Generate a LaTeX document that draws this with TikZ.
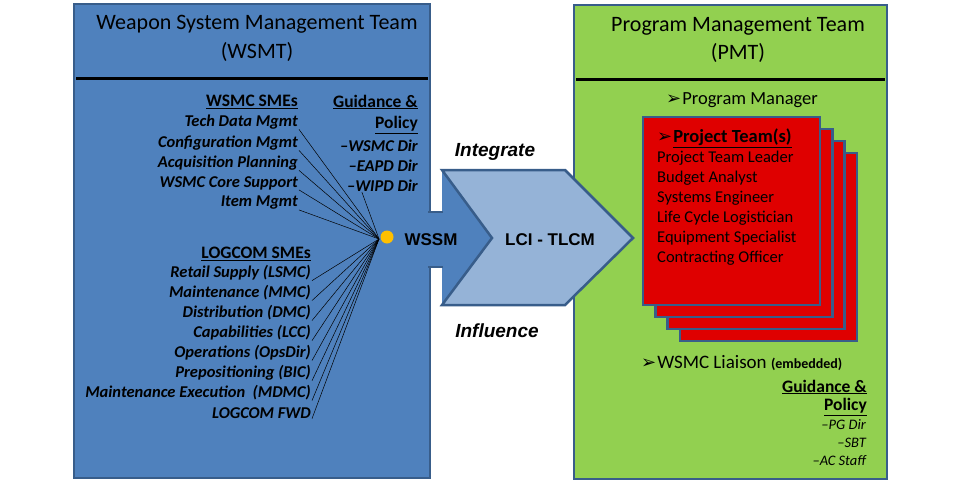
\documentclass[tikz,border=0pt]{standalone}
\usepackage{fontspec}
\setmainfont{Carlito}
\newfontfamily\arialfont{Liberation Sans}
\newfontfamily\symfont{DejaVu Sans}
\definecolor{blueface}{HTML}{4F81BD}
\definecolor{edgeblue}{HTML}{385D8A}
\definecolor{lightblue}{HTML}{95B3D7}
\definecolor{greenface}{HTML}{92D050}
\definecolor{cardred}{HTML}{DF0000}
\definecolor{dotyellow}{HTML}{FFC000}
\newcommand{\pointer}{{\symfont\fontsize{18}{18}\selectfont\char"27A2}\kern1pt}
\begin{document}
\begin{tikzpicture}[x=1pt, y=-1pt,
  edge/.style={draw=edgeblue, line width=2.5pt},
  head/.style={inner sep=0pt, font=\fontsize{22}{24}\selectfont},
  sme/.style={anchor=east, inner sep=0pt, font=\fontsize{16.5}{18}\selectfont\bfseries\itshape},
  smehead/.style={anchor=east, inner sep=0pt, font=\fontsize{17.5}{19}\selectfont\bfseries},
  spoke/.style={line width=0.5pt},
  member/.style={anchor=west, inner sep=0pt, font=\fontsize{16.5}{18}\selectfont},
  card/.style={fill=cardred, draw=edgeblue, line width=2.5pt},
  bigarrow/.style={inner sep=0pt, font=\fontsize{17}{20}\selectfont\arialfont\bfseries},
  verb/.style={inner sep=0pt, font=\fontsize{19}{21}\selectfont\arialfont\bfseries\itshape},
  staff/.style={anchor=east, inner sep=0pt, font=\fontsize{14.5}{16}\selectfont\itshape}]
  \useasboundingbox (0,0) rectangle (960,482);
  \fill[white] (0,0) rectangle (960,482);
  % WSMT panel
  \draw[edge, fill=blueface] (74,4) rectangle (430,478);
  \draw[line width=3pt] (76,78) -- (428,78);
  \node[head] (wsmt) at (257,24) {Weapon System Management Team};
  \node[head] (wsmtabbr) at (257,52) {(WSMT)};
  % PMT panel
  \draw[edge, fill=greenface] (574,5) rectangle (887,479);
  \draw[line width=3pt] (576,79) -- (885,79);
  \node[head] (pmt) at (738,26) {Program Management Team};
  \node[head] (pmtabbr) at (738,53) {(PMT)};
  % arrows
  \fill[blueface] (424,212) -- (442,212) -- (442,170) -- (492,238) -- (442,305)
    -- (442,267) -- (424,267) -- cycle;
  \draw[edge] (428,212) -- (443,212);
  \draw[edge] (428,267) -- (443,267);
  \draw[edge, fill=lightblue] (442,170) -- (565,170) -- (633,238) -- (565,305)
    -- (442,305) -- (492,238) -- cycle;
  \node[bigarrow] (wssm) at (431,240) {WSSM};
  \node[bigarrow] (lci) at (550,240) {LCI - TLCM};
  \node[verb] (integrate) at (495,152) {Integrate};
  \node[verb] (influence) at (497,331) {Influence};
  % WSMC SMEs
  \node[smehead] (wsmchead) at (298,102) {\underline{WSMC SMEs}};
  \node[sme] (tech) at (298,122) {Tech Data Mgmt};
  \node[sme] (config) at (298,143) {Configuration Mgmt};
  \node[sme] (acq) at (298,163) {Acquisition Planning};
  \node[sme] (core) at (298,183) {WSMC Core Support};
  \node[sme] (item) at (298,203) {Item Mgmt};
  % guidance
  \node[smehead] (guide) at (418,102) {\underline{Guidance \&}};
  \node[smehead] (policy) at (418,125) {\underline{Policy}};
  \node[sme] (wsmcdir) at (418,146) {--WSMC Dir};
  \node[sme] (eapd) at (418,166) {--EAPD Dir};
  \node[sme] (wipd) at (418,186) {--WIPD Dir};
  % LOGCOM SMEs
  \node[smehead] (loghead) at (311,254) {\underline{LOGCOM SMEs}};
  \node[sme] (retail) at (311,273) {Retail Supply (LSMC)};
  \node[sme] (maint) at (311,293) {Maintenance (MMC)};
  \node[sme] (dist) at (311,313) {Distribution (DMC)};
  \node[sme] (cap) at (311,333) {Capabilities (LCC)};
  \node[sme] (ops) at (311,353) {Operations (OpsDir)};
  \node[sme] (prepos) at (311,373) {Prepositioning (BIC)};
  \node[sme] (mdmc) at (311,393) {Maintenance Execution\ \ (MDMC)};
  \node[sme] (fwd) at (311,413) {LOGCOM FWD};
  % spokes into WSSM
  \coordinate (hub) at (379,239);
  \foreach \n in {tech,config,acq,core,item,retail,maint,dist,cap,ops,prepos,mdmc,fwd}
    \draw[spoke] ([xshift=1pt]\n.south east) -- (hub);
  \draw[spoke] ([xshift=15pt]wipd.south west) -- (hub);
  \node[circle, fill=dotyellow, minimum size=13pt, inner sep=0pt] (dot) at (387,237) {};
  % project team cards
  \foreach \i in {3,2,1,0}
    \draw[card] (643+12.3*\i, 117+12*\i) rectangle ++(177,188);
  \node[member, font=\fontsize{18.5}{20}\selectfont\bfseries] (ptitle) at (657,138) {\pointer\underline{Project Team(s)}};
  \node[member] (leader) at (657,158) {Project Team Leader};
  \node[member] (budget) at (657,178) {Budget Analyst};
  \node[member] (syseng) at (657,198) {Systems Engineer};
  \node[member] (logist) at (657,218) {Life Cycle Logistician};
  \node[member] (equip) at (657,238) {Equipment Specialist};
  \node[member] (contract) at (657,258) {Contracting Officer};
  % program manager and liaison
  \node[member, font=\fontsize{18.5}{20}\selectfont] (pm) at (666,100) {\pointer Program Manager};
  \node[member, font=\fontsize{19}{21}\selectfont] (liaison) at (641,363) {\pointer WSMC Liaison {\fontsize{14}{16}\selectfont\bfseries(embedded)}};
  \node[smehead] (pguide) at (867,387) {\underline{Guidance \&}};
  \node[smehead] (ppolicy) at (867,407) {\underline{Policy}};
  \node[staff] (pgdir) at (866,425) {--PG Dir};
  \node[staff] (sbt) at (866,443) {--SBT};
  \node[staff] (acstaff) at (866,461) {--AC Staff};
\end{tikzpicture}
\end{document}
